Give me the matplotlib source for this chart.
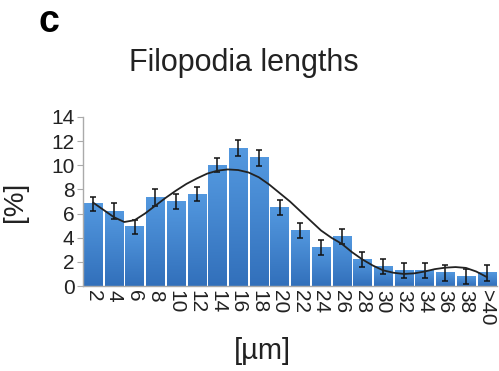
import numpy as np
import matplotlib
matplotlib.use("Agg")
import matplotlib.pyplot as plt
from matplotlib.colors import LinearSegmentedColormap

plt.rcParams['font.family'] = ['Liberation Sans', 'DejaVu Sans']

# bins (um) and measured percentages
bin_labels = ['2', '4', '6', '8', '10', '12', '14', '16', '18', '20',
              '22', '24', '26', '28', '30', '32', '34', '36', '38', '>40']
percent = [6.8, 6.2, 4.9, 7.3, 7.0, 7.6, 10.0, 11.4, 10.6, 6.5,
           4.6, 3.2, 4.1, 2.2, 1.6, 1.3, 1.3, 1.1, 0.8, 1.1]
err = [0.6, 0.65, 0.6, 0.7, 0.6, 0.6, 0.6, 0.65, 0.65, 0.65,
       0.65, 0.65, 0.65, 0.6, 0.6, 0.6, 0.6, 0.65, 0.65, 0.65]

# trend line (bar index, value)
trend_x = [1, 1.5, 2, 2.5, 3, 3.5, 4, 4.5, 5, 5.5, 6, 6.5, 7, 7.5, 8, 8.5, 9, 9.5, 10,
           10.5, 11, 11.5, 12, 12.5, 13, 13.5, 14, 14.5, 15, 15.5, 16, 16.5, 17,
           17.5, 18, 18.5, 19, 19.5, 20]
trend_y = [6.9, 6.3, 5.7, 5.3, 5.45, 6.0, 6.65, 7.3, 7.9, 8.45, 8.9, 9.3, 9.55, 9.65,
           9.6, 9.4, 9.0, 8.4, 7.7, 7.0, 6.2, 5.4, 4.6, 4.0, 3.5, 2.8, 2.2, 1.7,
           1.3, 1.1, 1.0, 1.05, 1.2, 1.4, 1.52, 1.57, 1.5, 1.2, 0.75]

x = np.arange(1, len(percent) + 1)
width = 0.88

fig = plt.figure(figsize=(4.99, 3.71), dpi=100)
ax = fig.add_axes([0.166, 0.229, 0.830, 0.456])

# gradient-filled bars (Excel style)
cmap = LinearSegmentedColormap.from_list('bar', ['#3270bb', '#5398df'])
grad = np.linspace(0, 1, 64).reshape(-1, 1)
bars = ax.bar(x, percent, width=width, color='none', edgecolor='none', zorder=2)
for b in bars:
    x0, y0 = b.get_x(), b.get_y()
    ax.imshow(grad, cmap=cmap, origin='lower', aspect='auto',
              extent=(x0, x0 + b.get_width(), y0, y0 + b.get_height()), zorder=2)

ax.errorbar(x, percent, yerr=err, fmt='none', ecolor='#111111', elinewidth=1.1,
            capsize=2.5, capthick=1.1, zorder=3)
ax.plot(trend_x, trend_y, color='#222222', lw=1.3, zorder=4)

ax.set_xlim(0.5, len(percent) + 0.5)
ax.set_ylim(0, 14)
ax.set_yticks(np.arange(0, 15, 2))
ax.set_xticks(x)
ax.set_xticklabels(bin_labels, rotation=-90, fontsize=15, color='#222222')
ax.tick_params(axis='y', labelsize=15, length=4, color='#aaaaaa', pad=2, labelcolor='#222222')
ax.tick_params(axis='x', length=0, pad=3)
for s in ['top', 'right']:
    ax.spines[s].set_visible(False)
for s in ['left', 'bottom']:
    ax.spines[s].set_color('#aaaaaa')
    ax.spines[s].set_linewidth(1.0)

fig.text(15 / 499, 1 - 202 / 371, '[%]', rotation=90, fontsize=20,
         ha='center', va='center', color='#222222')
fig.text(262 / 499, 1 - 351 / 371, '[µm]', fontsize=21,
         ha='center', va='center', color='#222222')
fig.text(244 / 499, 1 - 63 / 371, 'Filopodia lengths', fontsize=22,
         ha='center', va='center', color='#222222')
fig.text(49 / 499, 1 - 22 / 371, 'c', fontsize=27, fontweight='bold',
         ha='center', va='center')

fig.savefig('out.png', dpi=100)
